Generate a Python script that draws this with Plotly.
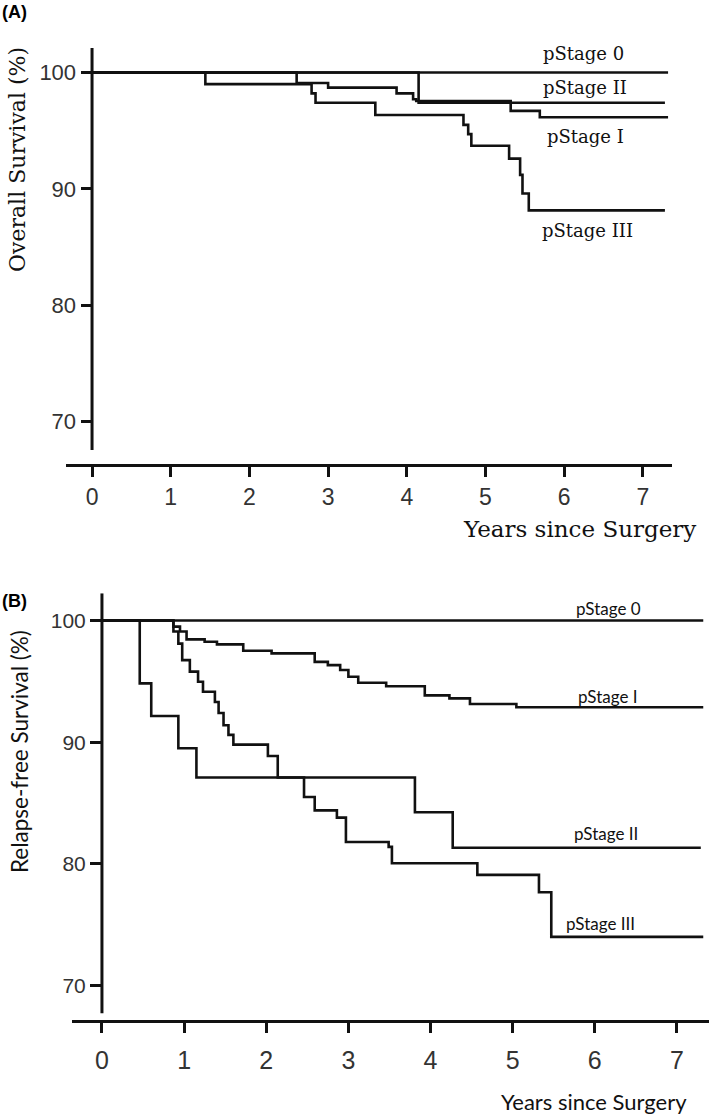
import plotly.graph_objects as go

# ---------------- data ----------------
year_ticks = [0, 1, 2, 3, 4, 5, 6, 7]
pct_ticks = [70, 80, 90, 100]

# Panel A: overall survival
os_stage0_t = [0, 7.32]
os_stage0_s = [100, 100]
os_stage1_t = [0, 2.60, 3.00, 3.87, 4.08, 4.12, 5.32, 5.69, 7.32]
os_stage1_s = [100, 99.1, 98.7, 98.2, 97.7, 97.55, 96.7, 96.15, 96.15]
os_stage2_t = [0, 4.15, 7.28]
os_stage2_s = [100, 97.4, 97.4]
os_stage3_t = [0, 1.44, 2.79, 2.84, 3.60, 4.72, 4.78, 4.82, 5.30, 5.44, 5.47, 5.55, 7.28]
os_stage3_s = [100, 99.0, 98.2, 97.4, 96.35, 95.5, 94.7, 93.7, 92.6, 91.2, 89.6, 88.15, 88.15]

# Panel B: relapse-free survival
rfs_stage0_t = [0, 7.32]
rfs_stage0_s = [100, 100]
rfs_stage1_t = [0, 0.87, 0.95, 1.03, 1.25, 1.40, 1.72, 2.065, 2.59, 2.75, 2.90, 3.00,
                3.12, 3.46, 3.93, 4.23, 4.48, 5.045, 7.32]
rfs_stage1_s = [100, 99.5, 99.1, 98.45, 98.26, 98.04, 97.52, 97.3, 96.6, 96.34, 95.93, 95.38,
                94.89, 94.6, 93.85, 93.6, 93.14, 92.87, 92.87]
rfs_stage2_t = [0, 0.46, 0.60, 0.93, 1.15, 3.81, 4.27, 7.29]
rfs_stage2_s = [100, 94.84, 92.15, 89.5, 87.1, 84.24, 81.33, 81.33]
rfs_stage3_t = [0, 0.87, 0.93, 0.977, 1.07, 1.17, 1.23, 1.375, 1.42, 1.48, 1.54, 1.60,
                2.02, 2.14, 2.46, 2.59, 2.86, 2.97, 3.49, 3.53, 4.57, 5.32, 5.47, 7.32]
rfs_stage3_s = [100, 99.1, 98.1, 96.75, 95.8, 94.97, 94.15, 93.3, 92.4, 91.4, 90.6, 89.8,
                88.87, 87.1, 85.5, 84.4, 83.8, 81.8, 81.4, 80.05, 79.1, 77.67, 74.0, 74.0]

stage_names = ["pStage 0", "pStage I", "pStage II", "pStage III"]

# ---------------- figure ----------------
W, H = 709, 1115
INK = "#111111"
TICK_INK = "#333333"
SERIF = "DejaVu Serif"
SANS = "Liberation Sans, Arial"
LATO = "Lato"


def fx(px):   # page pixel -> paper x
    return px / W


def fy(py):   # page pixel -> paper y
    return 1 - py / H


fig = go.Figure()

panel_a = [(os_stage0_t, os_stage0_s), (os_stage1_t, os_stage1_s),
           (os_stage2_t, os_stage2_s), (os_stage3_t, os_stage3_s)]
panel_b = [(rfs_stage0_t, rfs_stage0_s), (rfs_stage1_t, rfs_stage1_s),
           (rfs_stage2_t, rfs_stage2_s), (rfs_stage3_t, rfs_stage3_s)]

for (t, s), name in zip(panel_a, stage_names):
    fig.add_trace(go.Scatter(x=t, y=s, mode="lines", name=name,
                             line=dict(color=INK, width=2.6, shape="hv"),
                             xaxis="x", yaxis="y", showlegend=False))
for (t, s), name in zip(panel_b, stage_names):
    fig.add_trace(go.Scatter(x=t, y=s, mode="lines", name=name,
                             line=dict(color=INK, width=2.6, shape="hv"),
                             xaxis="x2", yaxis="y2", showlegend=False))

A_X = [-0.336, 7.37]
A_Y = [66.37, 102.1]
A_YLINE_BOTTOM = 67.57
B_X = [-0.361, 7.39]
B_Y = [67.17, 102.24]
B_YLINE_BOTTOM = 67.72

common_x = dict(showline=True, linewidth=3, linecolor=INK, ticks="outside",
                ticklen=10, tickwidth=2.5, tickcolor=INK, tickvals=year_ticks,
                showgrid=False, zeroline=False, mirror=False)
common_y = dict(showline=False, ticks="outside", ticklen=12, tickwidth=2.5,
                tickcolor=INK, tickvals=pct_ticks, showgrid=False, zeroline=False,
                anchor="free")

fig.update_layout(
    width=W, height=H,
    margin=dict(l=0, r=0, t=0, b=0),
    paper_bgcolor="white", plot_bgcolor="white",
    showlegend=False,
    xaxis=dict(domain=[fx(65.6), fx(672)], range=A_X, anchor="y",
               tickfont=dict(family=SANS, size=23, color=TICK_INK), **common_x),
    yaxis=dict(domain=[fy(464), fy(48)], range=A_Y, position=fx(92.5),
               tickfont=dict(family=SANS, size=22, color=TICK_INK), **common_y),
    xaxis2=dict(domain=[fx(72.3), 1.0], range=B_X, anchor="y2", ticklabelstandoff=6,
                tickfont=dict(family=SANS, size=25, color=TICK_INK), **common_x),
    yaxis2=dict(domain=[fy(1020), fy(593.3)], range=B_Y, position=fx(102),
                tickfont=dict(family=SANS, size=21, color=TICK_INK), **common_y),
)

fig.add_shape(type="line", xref="x", yref="y", x0=0, x1=0,
              y0=A_YLINE_BOTTOM, y1=A_Y[1], line=dict(color=INK, width=3))
fig.add_shape(type="line", xref="x2", yref="y2", x0=0, x1=0,
              y0=B_YLINE_BOTTOM, y1=B_Y[1], line=dict(color=INK, width=3))


def px_ann(text, x, y, font, angle=0, xanchor="center", yanchor="middle"):
    fig.add_annotation(text=text, xref="paper", yref="paper",
                       x=fx(x), y=fy(y), showarrow=False, font=font,
                       textangle=angle, xanchor=xanchor, yanchor=yanchor)


px_ann("<b>(A)</b>", 0, 12, dict(family=SANS, size=18, color="#000"), xanchor="left")
px_ann("<b>(B)</b>", 0, 601, dict(family=SANS, size=18, color="#000"), xanchor="left")

px_ann("Overall Survival (%)", 18, 160, dict(family=SERIF, size=22, color=INK), angle=-90)
px_ann("Years since Surgery", 579, 529, dict(family=SERIF, size=23, color=INK))
px_ann("Relapse-free Survival (%)", 19, 752, dict(family=LATO, size=22.5, color=INK), angle=-90)
px_ann("Years since Surgery", 594, 1101, dict(family=LATO, size=22, color=INK))

a_label_pos = [(6.24, 101.59), (6.27, 94.47), (6.27, 98.67), (6.30, 86.43)]
for name, (x, y) in zip(stage_names, a_label_pos):
    fig.add_annotation(text=name, xref="x", yref="y", x=x, y=y, showarrow=False,
                       font=dict(family=SERIF, size=18, color=INK))
b_label_pos = [(6.17, 101.03), (6.16, 93.74), (6.13, 82.51), (6.07, 75.12)]
for name, (x, y) in zip(stage_names, b_label_pos):
    fig.add_annotation(text=name, xref="x2", yref="y2", x=x, y=y, showarrow=False,
                       font=dict(family=LATO, size=17, color=INK))

fig.write_html(
    "out.html",
    config={"displayModeBar": False},
    post_script="document.body.style.margin='0';document.body.style.overflow='hidden';",
)
